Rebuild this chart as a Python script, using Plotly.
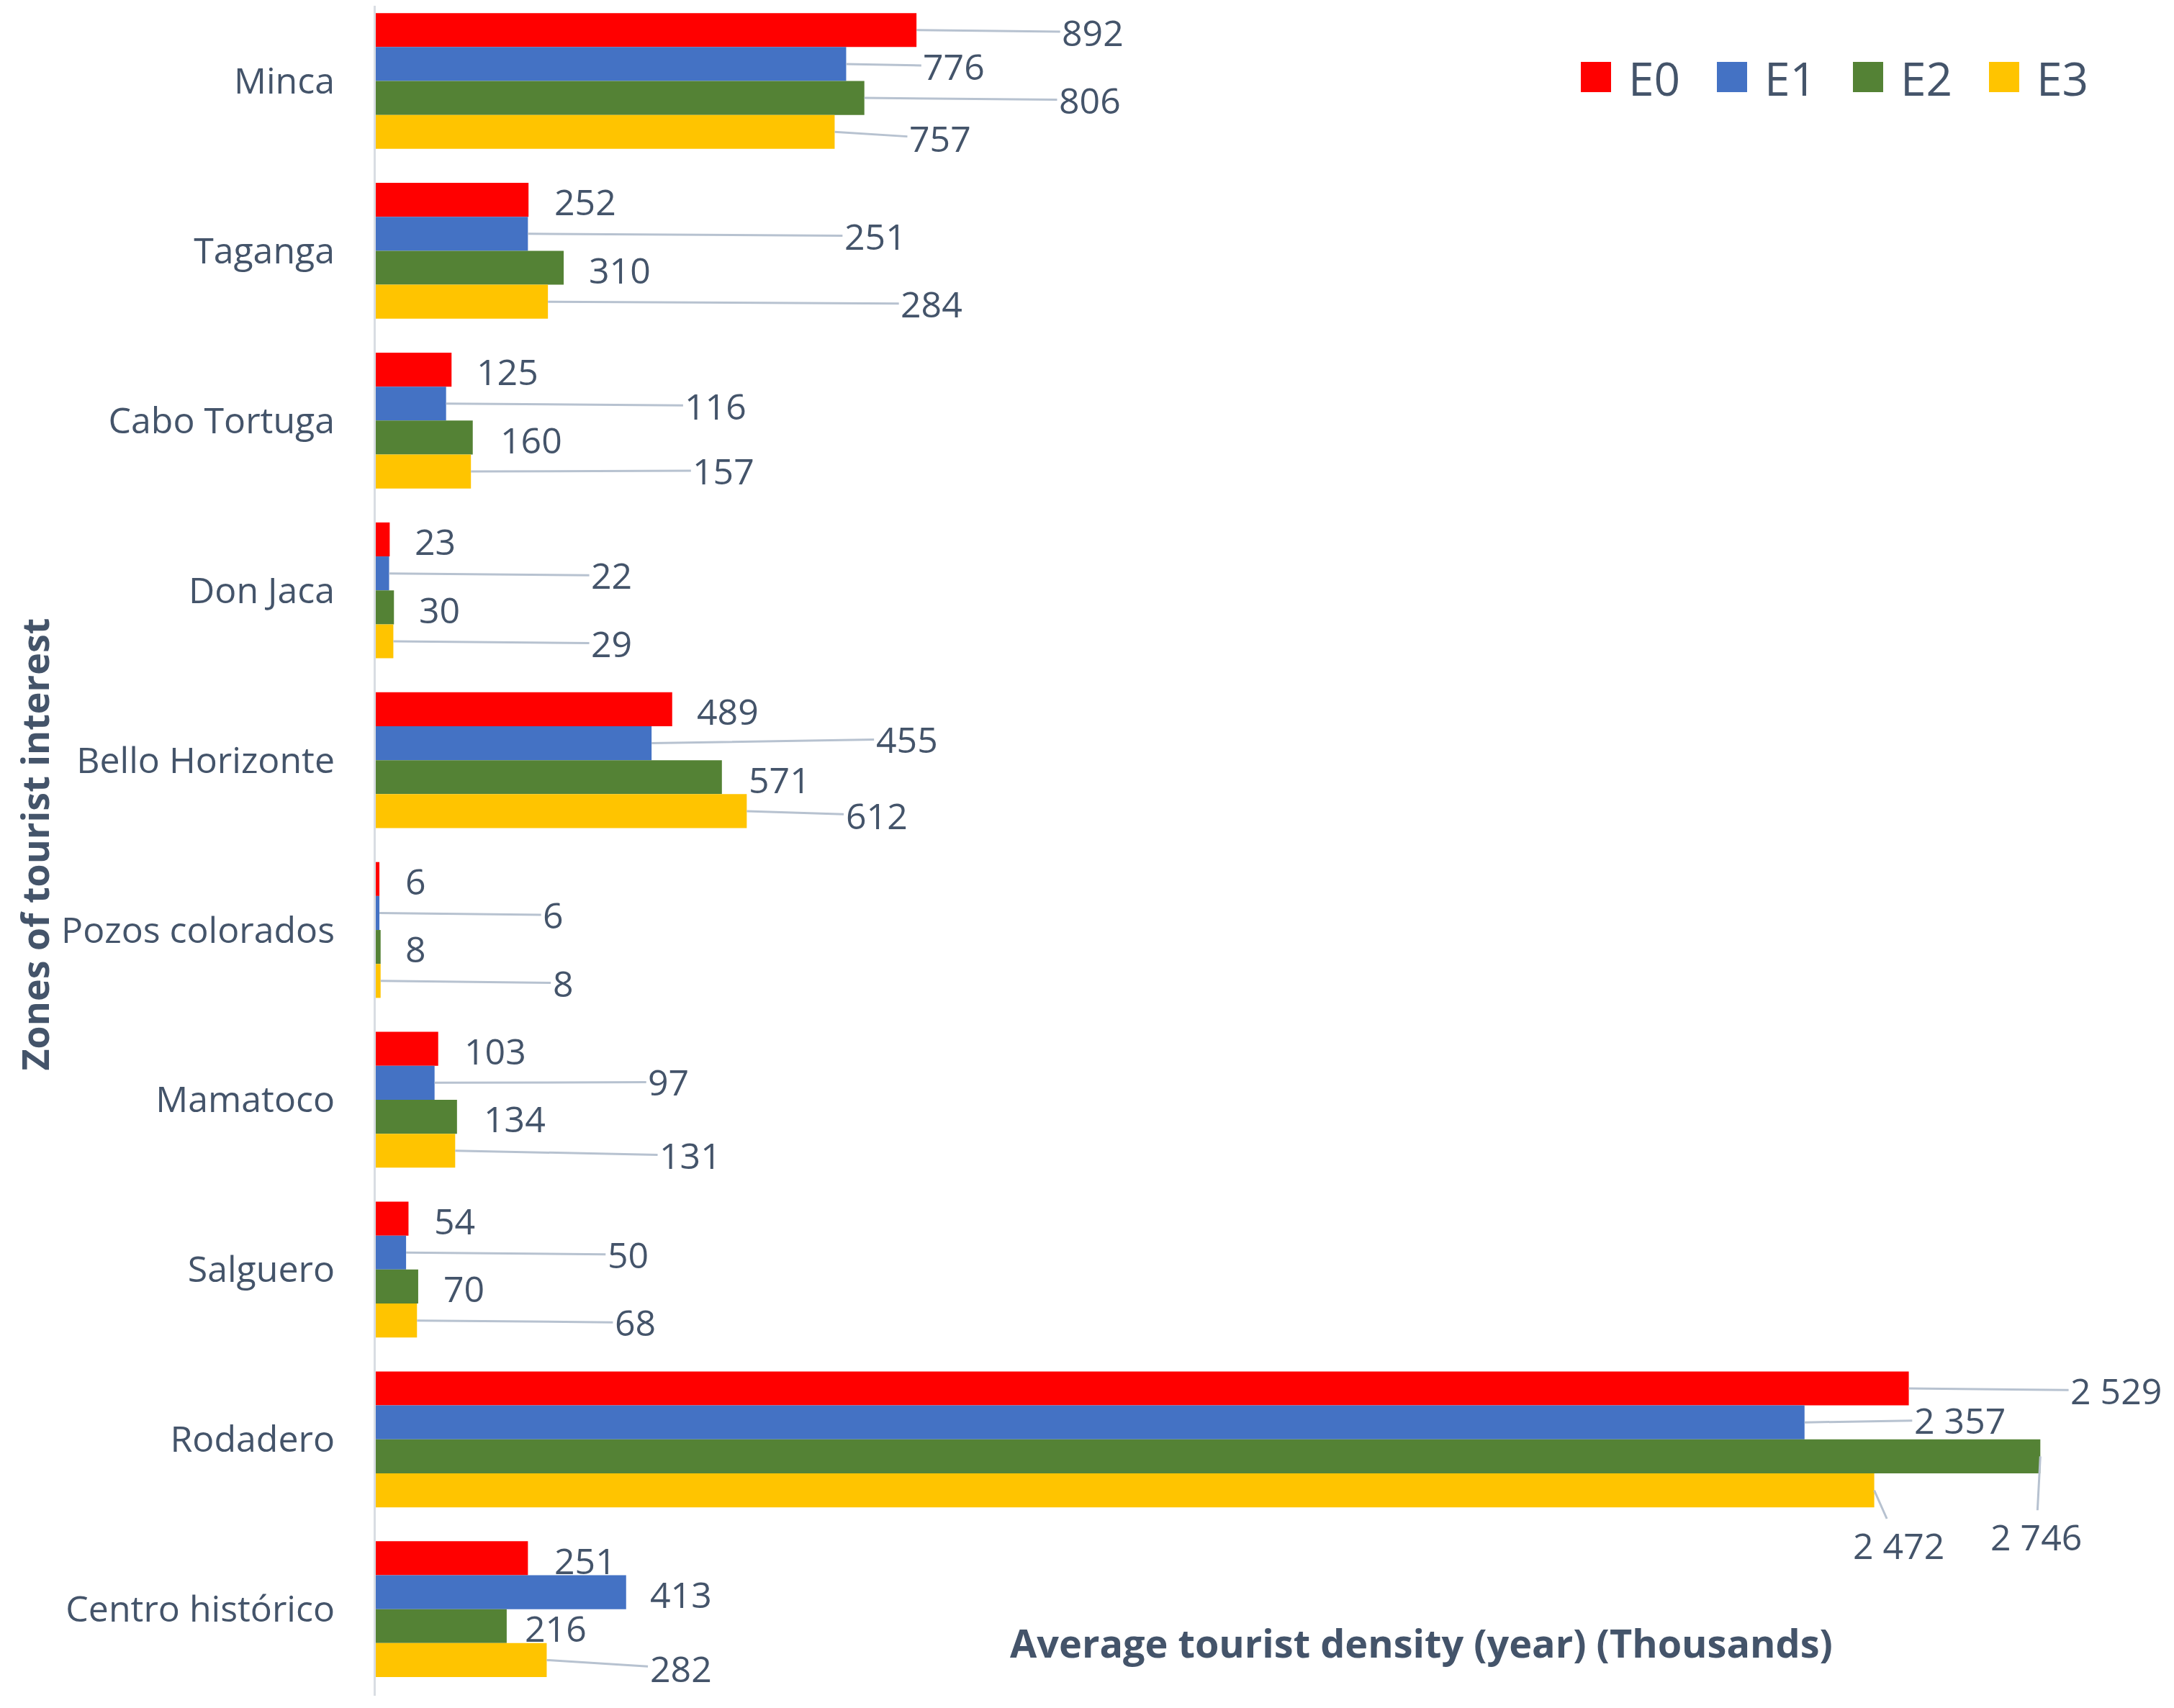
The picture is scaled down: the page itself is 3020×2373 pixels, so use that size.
import plotly.graph_objects as go

# data (thousands of tourists per year)
zones = ["Minca", "Taganga", "Cabo Tortuga", "Don Jaca", "Bello Horizonte",
         "Pozos colorados", "Mamatoco", "Salguero", "Rodadero", "Centro histórico"]
series_names = ["E0", "E1", "E2", "E3"]
e0 = [892, 252, 125, 23, 489, 6, 103, 54, 2529, 251]
e1 = [776, 251, 116, 22, 455, 6, 97, 50, 2357, 413]
e2 = [806, 310, 160, 30, 571, 8, 134, 70, 2746, 216]
e3 = [757, 284, 157, 29, 612, 8, 131, 68, 2472, 282]
series_values = [e0, e1, e2, e3]

colors = ["#FF0000", "#4472C4", "#548235", "#FFC400"]
text_color = "#44546A"
leader_color = "#B7C2D0"
font = "Open Sans"

# where each data label was dragged to (x: offset from bar end, y: offset in category units)
label_dx = [
    [291, 178, 372, 174],
    [93, 573, 93, 633],
    [92, 445, 96, 417],
    [75, 367, 75, 360],
    [92, 421, 95, 214],
    [60, 287, 58, 301],
    [94, 386, 95, 388],
    [76, 366, 76, 360],
    [342, 256, -7, 40],
    [94, 90, 81, 221],
]
label_dy = [
    [0, 0, 0, 0.027],
    [0, 0, 0, 0],
    [0, 0, 0, -0.017],
    [0, 0, 0, 0],
    [0, -0.037, 0, 0.013],
    [0, 0, 0, 0],
    [0, -0.016, 0, 0.016],
    [0, 0, 0, 0],
    [0, -0.027, 0.46, 0.31],
    [0, 0, 0, 0.037],
]

W, H = 3020, 2373
ML, MB = 514, 25
plot_w, plot_h = W - ML, H - MB
bargap = 0.2
bar_h = (1 - bargap) / len(series_names)


def fmt(v):
    return f"{v:,}".replace(",", " ")


def px_x(p):
    return (p - ML) / plot_w


def px_y(p):
    return (plot_h - p) / plot_h


fig = go.Figure()
for name, vals, col in zip(series_names, series_values, colors):
    fig.add_trace(go.Bar(
        y=zones, x=vals, name=name, orientation="h",
        marker=dict(color=col, line=dict(width=0)),
        hovertemplate="%{y}: %{x}<extra>" + name + "</extra>",
    ))

annotations = []
for i, zone in enumerate(zones):
    for k, vals in enumerate(series_values):
        v = vals[i]
        off = -(1 - bargap) / 2 + (k + 0.5) * bar_h
        dx, dy = label_dx[i][k], label_dy[i][k]
        tx, ty = v + dx, i + off + dy + 0.012
        leader = dx > 150 or abs(dy) > 0.1
        common = dict(text=fmt(v), font=dict(family=font, size=50, color=text_color),
                      xref="x", yref="y", borderpad=2)
        if leader:
            annotations.append(dict(
                x=v, y=i + off, ax=tx, ay=ty, axref="x", ayref="y",
                showarrow=True, arrowhead=0, arrowwidth=3, arrowcolor=leader_color,
                standoff=0, xanchor="center", yanchor="middle", **common))
        else:
            annotations.append(dict(x=tx, y=ty, showarrow=False,
                                    xanchor="center", yanchor="middle", **common))

# axis titles (moved by hand in the original chart)
annotations.append(dict(
    text="<b>Average tourist density (year) (Thousands)</b>", xref="paper", yref="paper",
    x=px_x(1966), y=px_y(2274), xanchor="center", yanchor="middle", showarrow=False,
    font=dict(family=font, size=54, color=text_color)))
annotations.append(dict(
    text="<b>Zones of tourist interest</b>", xref="paper", yref="paper",
    x=px_x(2), y=px_y(1165), xanchor="left", yanchor="middle", showarrow=False,
    textangle=-90, borderpad=0, font=dict(family=font, size=52, color=text_color)))

# legend drawn by hand so the swatches match the size of the original
shapes = []
for k, (name, col) in enumerate(zip(series_names, colors)):
    x0 = 2188 + k * 189
    shapes.append(dict(type="rect", xref="paper", yref="paper",
                       x0=px_x(x0), x1=px_x(x0 + 42), y0=px_y(120), y1=px_y(78),
                       fillcolor=col, line=dict(width=0)))
    annotations.append(dict(text=name, xref="paper", yref="paper",
                            x=px_x(x0 + 64), y=px_y(100), xanchor="left", yanchor="middle",
                            showarrow=False, font=dict(family=font, size=64, color=text_color)))

fig.update_layout(
    width=W, height=H,
    margin=dict(l=ML, r=0, t=0, b=MB),
    barmode="group", bargap=bargap, bargroupgap=0,
    plot_bgcolor="white", paper_bgcolor="white",
    showlegend=False,
    annotations=annotations, shapes=shapes,
    xaxis=dict(range=[0, 2976], showgrid=False, zeroline=False,
               showticklabels=False, showline=False),
    yaxis=dict(type="category", range=[9.51, -0.443], showgrid=False,
               showline=True, linecolor="#D9DDE3", linewidth=3, ticks="",
               ticklabelstandoff=44,
               tickfont=dict(family=font, size=50, color=text_color)),
)

fig.write_html("out.html")
